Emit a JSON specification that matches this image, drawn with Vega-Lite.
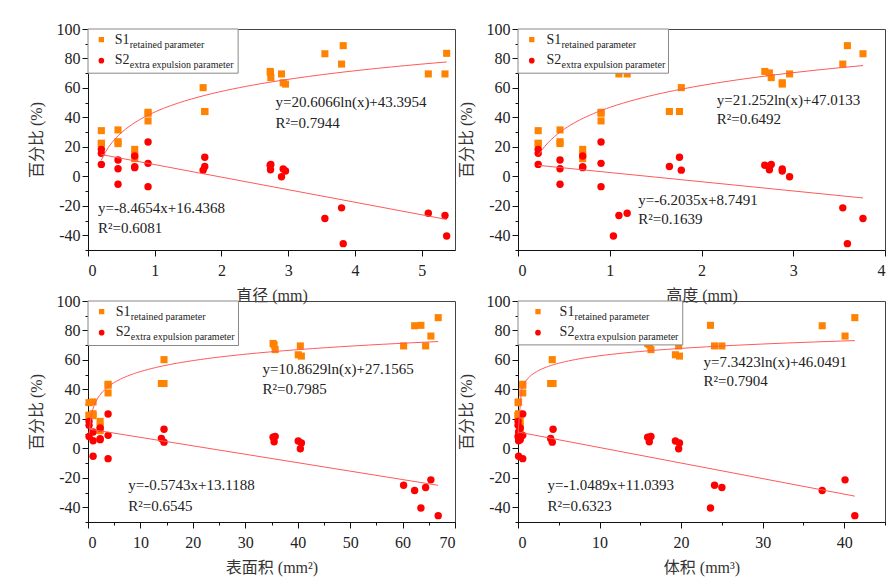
{
  "$schema": "https://vega.github.io/schema/vega-lite/v6.json",
  "padding": {"left": 27, "top": 20, "right": 0, "bottom": 5},
  "background": "white",
  "config": {
    "font": "Liberation Serif, Noto Sans CJK SC",
    "view": {"stroke": "#444", "strokeWidth": 1},
    "axis": {
      "grid": false,
      "domainColor": "#111",
      "tickColor": "#111",
      "labelColor": "#222",
      "labelFontSize": 16,
      "titleColor": "#333",
      "titleFontSize": 16,
      "titleFontWeight": "normal"
    },
    "text": {"font": "Liberation Serif", "color": "#222"}
  },
  "datasets": {
    "samples": [
      {"d": 0.2, "h": 0.22, "A": 0.2, "V": 0.007, "S1": 31, "S2": 18.3},
      {"d": 0.2, "h": 0.22, "A": 0.2, "V": 0.007, "S1": 22.2, "S2": 15.6},
      {"d": 0.2, "h": 0.22, "A": 0.2, "V": 0.007, "S1": 22.5, "S2": 8.1},
      {"d": 0.45, "h": 0.458, "A": 0.97, "V": 0.073, "S1": 31.5, "S2": 11.1},
      {"d": 0.45, "h": 0.458, "A": 0.97, "V": 0.073, "S1": 22.2, "S2": 5.2},
      {"d": 0.45, "h": 0.458, "A": 0.97, "V": 0.073, "S1": 23.5, "S2": -5.4},
      {"d": 0.7, "h": 0.705, "A": 2.32, "V": 0.27, "S1": 18.3, "S2": 13.8},
      {"d": 0.7, "h": 0.705, "A": 2.32, "V": 0.27, "S1": 14.5, "S2": 6.6},
      {"d": 0.7, "h": 0.705, "A": 2.32, "V": 0.27, "S1": 12, "S2": 5.9},
      {"d": 0.9, "h": 0.905, "A": 3.83, "V": 0.58, "S1": 43.5, "S2": 23.3},
      {"d": 0.9, "h": 0.905, "A": 3.83, "V": 0.58, "S1": 42.8, "S2": 8.8},
      {"d": 0.9, "h": 0.905, "A": 3.83, "V": 0.58, "S1": 37.6, "S2": -7.0},
      {"d": 1.75, "h": 1.65, "A": 14.0, "V": 4.0, "S1": 44, "S2": 6.7},
      {"d": 1.75, "h": 1.76, "A": 14.5, "V": 4.3, "S1": 44, "S2": 12.9},
      {"d": 1.725, "h": 1.78, "A": 14.5, "V": 4.2, "S1": 60.2, "S2": 4.2},
      {"d": 2.73, "h": 2.69, "A": 35.3, "V": 15.9, "S1": 71.2, "S2": 7.5},
      {"d": 2.735, "h": 2.74, "A": 35.5, "V": 16.1, "S1": 70.2, "S2": 4.5},
      {"d": 2.74, "h": 2.76, "A": 35.7, "V": 16.3, "S1": 67, "S2": 8.1},
      {"d": 2.925, "h": 2.88, "A": 40.1, "V": 19.3, "S1": 63.5, "S2": 5.0},
      {"d": 2.96, "h": 2.88, "A": 40.7, "V": 19.8, "S1": 62.6, "S2": 3.6},
      {"d": 2.9, "h": 2.96, "A": 40.5, "V": 19.7, "S1": 69.5, "S2": -0.3},
      {"d": 5.1, "h": 1.19, "A": 60.2, "V": 24.1, "S1": 69.5, "S2": -25.1},
      {"d": 3.55, "h": 3.76, "A": 62.3, "V": 37.3, "S1": 83.2, "S2": -28.6},
      {"d": 5.375, "h": 1.04, "A": 63.5, "V": 23.6, "S1": 83.5, "S2": -40.5},
      {"d": 5.35, "h": 1.1, "A": 64.4, "V": 25.0, "S1": 69.5, "S2": -26.6},
      {"d": 3.8, "h": 3.54, "A": 65.4, "V": 40.1, "S1": 76.2, "S2": -21.4},
      {"d": 3.825, "h": 3.59, "A": 66.8, "V": 41.3, "S1": 88.7, "S2": -45.7}
    ]
  },
  "columns": 2,
  "bounds": "flush",
  "spacing": {"row": 51, "column": 63},
  "concat": [
    {
      "width": 367,
      "height": 221,
      "data": {"name": "samples"},
      "layer": [
        {
          "mark": {"type": "square", "filled": true, "color": "#FF8200", "size": 50, "opacity": 1},
          "encoding": {
            "x": {"field": "d", "type": "quantitative", "scale": {"domain": [0, 5.5], "nice": false, "zero": false},
              "axis": {"title": "直径 (mm)", "values": [0, 0.5, 1, 1.5, 2, 2.5, 3, 3.5, 4, 4.5, 5, 5.5], "format": "d", "tickCount": 100,
                "labelExpr": "datum.value % 1 == 0 ? datum.label : ''", "labelPadding": 6, "labelOverlap": false,
                "tickSize": {"condition": {"test": "datum.value % 1 != 0", "value": 3}, "value": 6}, "titlePadding": 9}},
            "y": {"field": "S1", "type": "quantitative", "scale": {"domain": [-50, 100], "nice": false, "zero": false},
              "axis": {"title": "百分比 (%)", "values": [-50, -40, -30, -20, -10, 0, 10, 20, 30, 40, 50, 60, 70, 80, 90, 100], "format": "d", "tickCount": 100,
                "labelExpr": "datum.value % 20 == 0 ? replace(datum.label, '\u2212', '-') : ''", "labelOverlap": false,
                "tickSize": {"condition": {"test": "datum.value % 20 != 0", "value": 3}, "value": 6}, "titlePadding": 12}}
          }
        },
        {
          "mark": {"type": "circle", "color": "#FF0000", "size": 55, "opacity": 1},
          "encoding": {"x": {"field": "d", "type": "quantitative"}, "y": {"field": "S2", "type": "quantitative"}}
        },
        {
          "transform": [{"regression": "S1", "on": "d", "method": "log"}],
          "mark": {"type": "line", "color": "#FF5A5A", "strokeWidth": 1},
          "encoding": {"x": {"field": "d", "type": "quantitative"}, "y": {"field": "S1", "type": "quantitative"}}
        },
        {
          "transform": [{"regression": "S2", "on": "d"}],
          "mark": {"type": "line", "color": "#FF5A5A", "strokeWidth": 1},
          "encoding": {"x": {"field": "d", "type": "quantitative"}, "y": {"field": "S2", "type": "quantitative"}}
        },
        {
          "data": {"values": [{}]},
          "mark": {"type": "rect", "fill": "white", "stroke": "#888", "strokeWidth": 1},
          "encoding": {"x": {"datum": 0}, "x2": {"datum": 2.25}, "y": {"datum": 100}, "y2": {"datum": 70}}
        },
        {
          "data": {"values": [{}]},
          "mark": {"type": "square", "filled": true, "color": "#FF8200", "size": 28, "opacity": 1},
          "encoding": {"x": {"datum": 0.2}, "y": {"datum": 92.8}}
        },
        {
          "data": {"values": [{}]},
          "mark": {"type": "circle", "color": "#FF0000", "size": 32, "opacity": 1},
          "encoding": {"x": {"datum": 0.2}, "y": {"datum": 78.5}}
        },
        {
          "data": {"values": [{}]},
          "mark": {"type": "text", "align": "left", "baseline": "alphabetic", "fontSize": 14},
          "encoding": {"x": {"datum": 0.4}, "y": {"datum": 89.8}, "text": {"value": "S1"}}
        },
        {
          "data": {"values": [{}]},
          "mark": {"type": "text", "align": "left", "baseline": "alphabetic", "fontSize": 10, "dx": 15, "dy": 3.5},
          "encoding": {"x": {"datum": 0.4}, "y": {"datum": 89.8}, "text": {"value": "retained parameter"}}
        },
        {
          "data": {"values": [{}]},
          "mark": {"type": "text", "align": "left", "baseline": "alphabetic", "fontSize": 14},
          "encoding": {"x": {"datum": 0.4}, "y": {"datum": 76.3}, "text": {"value": "S2"}}
        },
        {
          "data": {"values": [{}]},
          "mark": {"type": "text", "align": "left", "baseline": "alphabetic", "fontSize": 10, "dx": 15, "dy": 4},
          "encoding": {"x": {"datum": 0.4}, "y": {"datum": 76.3}, "text": {"value": "extra expulsion parameter"}}
        },
        {
          "data": {"values": [{}]},
          "mark": {"type": "text", "align": "left", "baseline": "alphabetic", "fontSize": 15},
          "encoding": {"x": {"datum": 2.81}, "y": {"datum": 47.1}, "text": {"value": "y=20.6066ln(x)+43.3954"}}
        },
        {
          "data": {"values": [{}]},
          "mark": {"type": "text", "align": "left", "baseline": "alphabetic", "fontSize": 15},
          "encoding": {"x": {"datum": 2.81}, "y": {"datum": 33}, "text": {"value": "R²=0.7944"}}
        },
        {
          "data": {"values": [{}]},
          "mark": {"type": "text", "align": "left", "baseline": "alphabetic", "fontSize": 15},
          "encoding": {"x": {"datum": 0.15}, "y": {"datum": -24.7}, "text": {"value": "y=-8.4654x+16.4368"}}
        },
        {
          "data": {"values": [{}]},
          "mark": {"type": "text", "align": "left", "baseline": "alphabetic", "fontSize": 15},
          "encoding": {"x": {"datum": 0.15}, "y": {"datum": -38.3}, "text": {"value": "R²=0.6081"}}
        }
      ]
    },
    {
      "width": 367,
      "height": 221,
      "data": {"name": "samples"},
      "layer": [
        {
          "mark": {"type": "square", "filled": true, "color": "#FF8200", "size": 50, "opacity": 1},
          "encoding": {
            "x": {"field": "h", "type": "quantitative", "scale": {"domain": [0, 4], "nice": false, "zero": false},
              "axis": {"title": "高度 (mm)", "values": [0, 0.5, 1, 1.5, 2, 2.5, 3, 3.5, 4], "format": "d", "tickCount": 100,
                "labelExpr": "datum.value % 1 == 0 ? datum.label : ''", "labelPadding": 6, "labelOverlap": false,
                "tickSize": {"condition": {"test": "datum.value % 1 != 0", "value": 3}, "value": 6}, "titlePadding": 9}},
            "y": {"field": "S1", "type": "quantitative", "scale": {"domain": [-50, 100], "nice": false, "zero": false},
              "axis": {"title": "百分比 (%)", "values": [-50, -40, -30, -20, -10, 0, 10, 20, 30, 40, 50, 60, 70, 80, 90, 100], "format": "d", "tickCount": 100,
                "labelExpr": "datum.value % 20 == 0 ? replace(datum.label, '\u2212', '-') : ''", "labelOverlap": false,
                "tickSize": {"condition": {"test": "datum.value % 20 != 0", "value": 3}, "value": 6}, "titlePadding": 12}}
          }
        },
        {
          "mark": {"type": "circle", "color": "#FF0000", "size": 55, "opacity": 1},
          "encoding": {"x": {"field": "h", "type": "quantitative"}, "y": {"field": "S2", "type": "quantitative"}}
        },
        {
          "transform": [{"regression": "S1", "on": "h", "method": "log"}],
          "mark": {"type": "line", "color": "#FF5A5A", "strokeWidth": 1},
          "encoding": {"x": {"field": "h", "type": "quantitative"}, "y": {"field": "S1", "type": "quantitative"}}
        },
        {
          "transform": [{"regression": "S2", "on": "h"}],
          "mark": {"type": "line", "color": "#FF5A5A", "strokeWidth": 1},
          "encoding": {"x": {"field": "h", "type": "quantitative"}, "y": {"field": "S2", "type": "quantitative"}}
        },
        {
          "data": {"values": [{}]},
          "mark": {"type": "rect", "fill": "white", "stroke": "#888", "strokeWidth": 1},
          "encoding": {"x": {"datum": 0}, "x2": {"datum": 1.64}, "y": {"datum": 100}, "y2": {"datum": 70}}
        },
        {
          "data": {"values": [{}]},
          "mark": {"type": "square", "filled": true, "color": "#FF8200", "size": 28, "opacity": 1},
          "encoding": {"x": {"datum": 0.15}, "y": {"datum": 92.8}}
        },
        {
          "data": {"values": [{}]},
          "mark": {"type": "circle", "color": "#FF0000", "size": 32, "opacity": 1},
          "encoding": {"x": {"datum": 0.15}, "y": {"datum": 78.5}}
        },
        {
          "data": {"values": [{}]},
          "mark": {"type": "text", "align": "left", "baseline": "alphabetic", "fontSize": 14},
          "encoding": {"x": {"datum": 0.31}, "y": {"datum": 89.8}, "text": {"value": "S1"}}
        },
        {
          "data": {"values": [{}]},
          "mark": {"type": "text", "align": "left", "baseline": "alphabetic", "fontSize": 10, "dx": 15, "dy": 3.5},
          "encoding": {"x": {"datum": 0.31}, "y": {"datum": 89.8}, "text": {"value": "retained parameter"}}
        },
        {
          "data": {"values": [{}]},
          "mark": {"type": "text", "align": "left", "baseline": "alphabetic", "fontSize": 14},
          "encoding": {"x": {"datum": 0.31}, "y": {"datum": 76.3}, "text": {"value": "S2"}}
        },
        {
          "data": {"values": [{}]},
          "mark": {"type": "text", "align": "left", "baseline": "alphabetic", "fontSize": 10, "dx": 15, "dy": 4},
          "encoding": {"x": {"datum": 0.31}, "y": {"datum": 76.3}, "text": {"value": "extra expulsion parameter"}}
        },
        {
          "data": {"values": [{}]},
          "mark": {"type": "text", "align": "left", "baseline": "alphabetic", "fontSize": 15},
          "encoding": {"x": {"datum": 2.166}, "y": {"datum": 48.2}, "text": {"value": "y=21.252ln(x)+47.0133"}}
        },
        {
          "data": {"values": [{}]},
          "mark": {"type": "text", "align": "left", "baseline": "alphabetic", "fontSize": 15},
          "encoding": {"x": {"datum": 2.166}, "y": {"datum": 35.3}, "text": {"value": "R²=0.6492"}}
        },
        {
          "data": {"values": [{}]},
          "mark": {"type": "text", "align": "left", "baseline": "alphabetic", "fontSize": 15},
          "encoding": {"x": {"datum": 1.311}, "y": {"datum": -19.5}, "text": {"value": "y=-6.2035x+8.7491"}}
        },
        {
          "data": {"values": [{}]},
          "mark": {"type": "text", "align": "left", "baseline": "alphabetic", "fontSize": 15},
          "encoding": {"x": {"datum": 1.311}, "y": {"datum": -32.1}, "text": {"value": "R²=0.1639"}}
        }
      ]
    },
    {
      "width": 367,
      "height": 221,
      "data": {"name": "samples"},
      "layer": [
        {
          "mark": {"type": "square", "filled": true, "color": "#FF8200", "size": 50, "opacity": 1},
          "encoding": {
            "x": {"field": "A", "type": "quantitative", "scale": {"domain": [0, 70], "nice": false, "zero": false},
              "axis": {"title": "表面积 (mm²)", "values": [0, 5, 10, 15, 20, 25, 30, 35, 40, 45, 50, 55, 60, 65, 70], "format": "d", "tickCount": 100,
                "labelExpr": "datum.value % 10 == 0 ? datum.label : ''", "labelPadding": 6, "labelOverlap": false,
                "tickSize": {"condition": {"test": "datum.value % 10 != 0", "value": 3}, "value": 6}, "titlePadding": 9}},
            "y": {"field": "S1", "type": "quantitative", "scale": {"domain": [-50, 100], "nice": false, "zero": false},
              "axis": {"title": "百分比 (%)", "values": [-50, -40, -30, -20, -10, 0, 10, 20, 30, 40, 50, 60, 70, 80, 90, 100], "format": "d", "tickCount": 100,
                "labelExpr": "datum.value % 20 == 0 ? replace(datum.label, '\u2212', '-') : ''", "labelOverlap": false,
                "tickSize": {"condition": {"test": "datum.value % 20 != 0", "value": 3}, "value": 6}, "titlePadding": 12}}
          }
        },
        {
          "mark": {"type": "circle", "color": "#FF0000", "size": 55, "opacity": 1},
          "encoding": {"x": {"field": "A", "type": "quantitative"}, "y": {"field": "S2", "type": "quantitative"}}
        },
        {
          "transform": [{"regression": "S1", "on": "A", "method": "log"}],
          "mark": {"type": "line", "color": "#FF5A5A", "strokeWidth": 1},
          "encoding": {"x": {"field": "A", "type": "quantitative"}, "y": {"field": "S1", "type": "quantitative"}}
        },
        {
          "transform": [{"regression": "S2", "on": "A"}],
          "mark": {"type": "line", "color": "#FF5A5A", "strokeWidth": 1},
          "encoding": {"x": {"field": "A", "type": "quantitative"}, "y": {"field": "S2", "type": "quantitative"}}
        },
        {
          "data": {"values": [{}]},
          "mark": {"type": "rect", "fill": "white", "stroke": "#888", "strokeWidth": 1},
          "encoding": {"x": {"datum": 0}, "x2": {"datum": 28.7}, "y": {"datum": 100}, "y2": {"datum": 69.8}}
        },
        {
          "data": {"values": [{}]},
          "mark": {"type": "square", "filled": true, "color": "#FF8200", "size": 28, "opacity": 1},
          "encoding": {"x": {"datum": 2.6}, "y": {"datum": 92.8}}
        },
        {
          "data": {"values": [{}]},
          "mark": {"type": "circle", "color": "#FF0000", "size": 32, "opacity": 1},
          "encoding": {"x": {"datum": 2.6}, "y": {"datum": 78.5}}
        },
        {
          "data": {"values": [{}]},
          "mark": {"type": "text", "align": "left", "baseline": "alphabetic", "fontSize": 14},
          "encoding": {"x": {"datum": 5.3}, "y": {"datum": 89.8}, "text": {"value": "S1"}}
        },
        {
          "data": {"values": [{}]},
          "mark": {"type": "text", "align": "left", "baseline": "alphabetic", "fontSize": 10, "dx": 15, "dy": 3.5},
          "encoding": {"x": {"datum": 5.3}, "y": {"datum": 89.8}, "text": {"value": "retained parameter"}}
        },
        {
          "data": {"values": [{}]},
          "mark": {"type": "text", "align": "left", "baseline": "alphabetic", "fontSize": 14},
          "encoding": {"x": {"datum": 5.3}, "y": {"datum": 76.3}, "text": {"value": "S2"}}
        },
        {
          "data": {"values": [{}]},
          "mark": {"type": "text", "align": "left", "baseline": "alphabetic", "fontSize": 10, "dx": 15, "dy": 4},
          "encoding": {"x": {"datum": 5.3}, "y": {"datum": 76.3}, "text": {"value": "extra expulsion parameter"}}
        },
        {
          "data": {"values": [{}]},
          "mark": {"type": "text", "align": "left", "baseline": "alphabetic", "fontSize": 15},
          "encoding": {"x": {"datum": 33.3}, "y": {"datum": 50.2}, "text": {"value": "y=10.8629ln(x)+27.1565"}}
        },
        {
          "data": {"values": [{}]},
          "mark": {"type": "text", "align": "left", "baseline": "alphabetic", "fontSize": 15},
          "encoding": {"x": {"datum": 33.3}, "y": {"datum": 36.6}, "text": {"value": "R²=0.7985"}}
        },
        {
          "data": {"values": [{}]},
          "mark": {"type": "text", "align": "left", "baseline": "alphabetic", "fontSize": 15},
          "encoding": {"x": {"datum": 7.7}, "y": {"datum": -28.3}, "text": {"value": "y=-0.5743x+13.1188"}}
        },
        {
          "data": {"values": [{}]},
          "mark": {"type": "text", "align": "left", "baseline": "alphabetic", "fontSize": 15},
          "encoding": {"x": {"datum": 7.7}, "y": {"datum": -42.5}, "text": {"value": "R²=0.6545"}}
        }
      ]
    },
    {
      "width": 367,
      "height": 221,
      "data": {"name": "samples"},
      "layer": [
        {
          "mark": {"type": "square", "filled": true, "color": "#FF8200", "size": 50, "opacity": 1},
          "encoding": {
            "x": {"field": "V", "type": "quantitative", "scale": {"domain": [0, 45], "nice": false, "zero": false},
              "axis": {"title": "体积 (mm³)", "values": [0, 5, 10, 15, 20, 25, 30, 35, 40, 45], "format": "d", "tickCount": 100,
                "labelExpr": "datum.value % 10 == 0 ? datum.label : ''", "labelPadding": 6, "labelOverlap": false,
                "tickSize": {"condition": {"test": "datum.value % 10 != 0", "value": 3}, "value": 6}, "titlePadding": 9}},
            "y": {"field": "S1", "type": "quantitative", "scale": {"domain": [-50, 100], "nice": false, "zero": false},
              "axis": {"title": "百分比 (%)", "values": [-50, -40, -30, -20, -10, 0, 10, 20, 30, 40, 50, 60, 70, 80, 90, 100], "format": "d", "tickCount": 100,
                "labelExpr": "datum.value % 20 == 0 ? replace(datum.label, '\u2212', '-') : ''", "labelOverlap": false,
                "tickSize": {"condition": {"test": "datum.value % 20 != 0", "value": 3}, "value": 6}, "titlePadding": 12}}
          }
        },
        {
          "mark": {"type": "circle", "color": "#FF0000", "size": 55, "opacity": 1},
          "encoding": {"x": {"field": "V", "type": "quantitative"}, "y": {"field": "S2", "type": "quantitative"}}
        },
        {
          "transform": [{"regression": "S1", "on": "V", "method": "log"}],
          "mark": {"type": "line", "color": "#FF5A5A", "strokeWidth": 1},
          "encoding": {"x": {"field": "V", "type": "quantitative"}, "y": {"field": "S1", "type": "quantitative"}}
        },
        {
          "transform": [{"regression": "S2", "on": "V"}],
          "mark": {"type": "line", "color": "#FF5A5A", "strokeWidth": 1},
          "encoding": {"x": {"field": "V", "type": "quantitative"}, "y": {"field": "S2", "type": "quantitative"}}
        },
        {
          "data": {"values": [{}]},
          "mark": {"type": "rect", "fill": "white", "stroke": "#888", "strokeWidth": 1},
          "encoding": {"x": {"datum": 0}, "x2": {"datum": 20.2}, "y": {"datum": 100}, "y2": {"datum": 70.2}}
        },
        {
          "data": {"values": [{}]},
          "mark": {"type": "square", "filled": true, "color": "#FF8200", "size": 28, "opacity": 1},
          "encoding": {"x": {"datum": 2.45}, "y": {"datum": 92.8}}
        },
        {
          "data": {"values": [{}]},
          "mark": {"type": "circle", "color": "#FF0000", "size": 32, "opacity": 1},
          "encoding": {"x": {"datum": 2.45}, "y": {"datum": 78.5}}
        },
        {
          "data": {"values": [{}]},
          "mark": {"type": "text", "align": "left", "baseline": "alphabetic", "fontSize": 14},
          "encoding": {"x": {"datum": 5.1}, "y": {"datum": 89.8}, "text": {"value": "S1"}}
        },
        {
          "data": {"values": [{}]},
          "mark": {"type": "text", "align": "left", "baseline": "alphabetic", "fontSize": 10, "dx": 15, "dy": 3.5},
          "encoding": {"x": {"datum": 5.1}, "y": {"datum": 89.8}, "text": {"value": "retained parameter"}}
        },
        {
          "data": {"values": [{}]},
          "mark": {"type": "text", "align": "left", "baseline": "alphabetic", "fontSize": 14},
          "encoding": {"x": {"datum": 5.1}, "y": {"datum": 76.3}, "text": {"value": "S2"}}
        },
        {
          "data": {"values": [{}]},
          "mark": {"type": "text", "align": "left", "baseline": "alphabetic", "fontSize": 10, "dx": 15, "dy": 4},
          "encoding": {"x": {"datum": 5.1}, "y": {"datum": 76.3}, "text": {"value": "extra expulsion parameter"}}
        },
        {
          "data": {"values": [{}]},
          "mark": {"type": "text", "align": "left", "baseline": "alphabetic", "fontSize": 15},
          "encoding": {"x": {"datum": 22.75}, "y": {"datum": 55.4}, "text": {"value": "y=7.3423ln(x)+46.0491"}}
        },
        {
          "data": {"values": [{}]},
          "mark": {"type": "text", "align": "left", "baseline": "alphabetic", "fontSize": 15},
          "encoding": {"x": {"datum": 22.75}, "y": {"datum": 42.3}, "text": {"value": "R²=0.7904"}}
        },
        {
          "data": {"values": [{}]},
          "mark": {"type": "text", "align": "left", "baseline": "alphabetic", "fontSize": 15},
          "encoding": {"x": {"datum": 3.63}, "y": {"datum": -28.3}, "text": {"value": "y=-1.0489x+11.0393"}}
        },
        {
          "data": {"values": [{}]},
          "mark": {"type": "text", "align": "left", "baseline": "alphabetic", "fontSize": 15},
          "encoding": {"x": {"datum": 3.63}, "y": {"datum": -42.5}, "text": {"value": "R²=0.6323"}}
        }
      ]
    }
  ]
}
